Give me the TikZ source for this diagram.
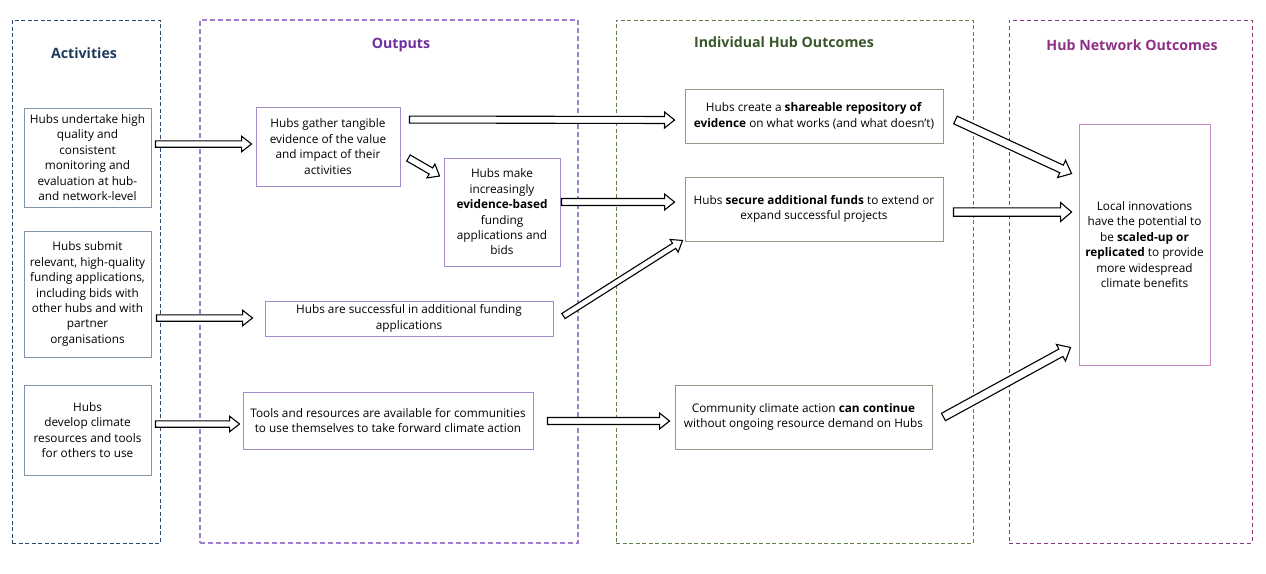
\documentclass[tikz,border=0pt]{standalone}
\usepackage{fontspec}
\setmainfont{Open Sans}
\usetikzlibrary{calc}
\definecolor{actline}{HTML}{2E4A6B}
\definecolor{acttitle}{HTML}{1F3B5C}
\definecolor{actbox}{HTML}{7F94AB}
\definecolor{outline}{HTML}{A07FD2}
\definecolor{outtitle}{HTML}{7030A0}
\definecolor{outbox}{HTML}{A58BC9}
\definecolor{indline}{HTML}{5F7F4F}
\definecolor{indtitle}{HTML}{38572A}
\definecolor{indbox}{HTML}{8C9C86}
\definecolor{netline}{HTML}{8B3A7E}
\definecolor{nettitle}{HTML}{8E3087}
\definecolor{netbox}{HTML}{C58AC3}
\newcommand\barrow[5]{%
  \coordinate (bh) at ($(#5)!#3!(#4)$);
  \draw[blockarr] ($(#4)!#1!90:(#5)$) -- ($(bh)!#1!90:(#5)$) -- ($(bh)!#2!90:(#5)$) -- (#5)
    -- ($(bh)!#2!-90:(#5)$) -- ($(bh)!#1!-90:(#5)$) -- ($(#4)!#1!-90:(#5)$) -- cycle;}
\tikzset{
  cont/.style={draw, line width=1pt, dash pattern=on 4pt off 2.5pt, minimum height=523pt, inner sep=0pt},
  ctitle/.style={font=\fontsize{14.2}{16}\selectfont\bfseries},
  box/.style={draw, line width=0.9pt, align=center, inner sep=0pt, font=\fontsize{11.8}{15.4}\selectfont},
  actb/.style={box, draw=actbox, minimum width=127pt},
  outb/.style={box, draw=outbox},
  indb/.style={box, draw=indbox},
  netb/.style={box, draw=netbox},
  blockarr/.style={draw=black, fill=white, line width=1.1pt, line join=miter}
}
\begin{document}
\begin{tikzpicture}[x=1pt, y=-1pt]
\useasboundingbox (0,0) rectangle (1266,573);
% containers
\node[cont, draw=actline, minimum width=148pt] (cact) at (86,281.5) {};
\node[cont, draw=outline, line width=1.3pt, dash pattern=on 5pt off 3pt, minimum width=378pt] (cout) at (389,281.5) {};
\node[cont, draw=indline, minimum width=357pt] (cind) at (794.5,281.5) {};
\node[cont, draw=netline, dash pattern=on 4pt off 3pt, minimum width=243pt] (cnet) at (1130.5,281.5) {};
% titles
\node[ctitle, text=acttitle] (tact) at (84,53) {Activities};
\node[ctitle, text=outtitle] (tout) at (401,45) {Outputs};
\node[ctitle, text=indtitle] (tind) at (784,42) {Individual Hub Outcomes};
\node[ctitle, text=nettitle] (tnet) at (1132,45) {Hub Network Outcomes};
% activities
\node[actb, minimum height=99pt] (a1) at (87.5,157.5) {Hubs undertake high\\quality and\\consistent\\monitoring and\\evaluation at hub-\\and network-level};
\node[actb, minimum height=126pt] (a2) at (87.5,294) {Hubs submit\\relevant, high-quality\\funding applications,\\including bids with\\other hubs and with\\partner\\organisations};
\node[actb, minimum height=90pt] (a3) at (87.5,430) {Hubs\\develop climate\\resources and tools\\for others to use};
% outputs
\node[outb, minimum width=144pt, minimum height=79pt] (o1) at (328,146.5) {Hubs gather tangible\\evidence of the value\\and impact of their\\activities};
\node[outb, minimum width=116pt, minimum height=108pt] (o2) at (502,212) {Hubs make\\increasingly\\\textbf{evidence-based}\\funding\\applications and\\bids};
\node[outb, minimum width=288pt, minimum height=35pt] (o3) at (409,318.5) {Hubs are successful in additional funding\\applications};
\node[outb, minimum width=290pt, minimum height=57pt] (o4) at (388,420.5) {Tools and resources are available for communities\\to use themselves to take forward climate action};
% individual outcomes
\node[indb, minimum width=258pt, minimum height=54pt] (i1) at (814,116) {Hubs create a \textbf{shareable repository of}\\\textbf{evidence} on what works (and what doesn't)};
\node[indb, minimum width=258pt, minimum height=64pt] (i2) at (814,209) {Hubs \textbf{secure additional funds} to extend or\\expand successful projects};
\node[indb, minimum width=257pt, minimum height=64pt] (i3) at (803.5,417) {Community climate action \textbf{can continue}\\without ongoing resource demand on Hubs};
% network outcome
\node[netb, minimum width=131pt, minimum height=241pt] (n1) at (1144.5,244.5) {Local innovations\\have the potential to\\be \textbf{scaled-up or}\\\textbf{replicated} to provide\\more widespread\\climate benefits};
% arrow end points
\coordinate (a1s) at ($(a1.east)+(4,-13.5)$);
\coordinate (o1t) at ($(o1.west)+(-4,-2.5)$);
\coordinate (o1s) at ($(o1.north east)+(9,13)$);
\coordinate (i1t) at ($(i1.west)+(-10,4)$);
\coordinate (o1d) at ($(o1.east)+(8,11.5)$);
\coordinate (o2t) at ($(o2.west)+(-4,-36)$);
\coordinate (o2s) at ($(o2.east)+(1,-10)$);
\coordinate (i2t) at ($(i2.west)+(-10,-7)$);
\coordinate (a2s) at ($(a2.east)+(5,24)$);
\coordinate (o3t) at ($(o3.west)+(-12,-0.5)$);
\coordinate (o3s) at ($(o3.east)+(10,-2.5)$);
\coordinate (i2b) at ($(i2.south west)+(-2,-1)$);
\coordinate (a3s) at ($(a3.east)+(4,-6)$);
\coordinate (o4t) at ($(o4.west)+(-3,3.5)$);
\coordinate (o4s) at ($(o4.east)+(14,0.5)$);
\coordinate (i3t) at ($(i3.west)+(-5,4)$);
\coordinate (i1s) at ($(i1.east)+(12,4)$);
\coordinate (n1a) at ($(n1.north west)+(-7,50)$);
\coordinate (i2s) at ($(i2.east)+(10,3)$);
\coordinate (n1b) at ($(n1.west)+(-7,-32.5)$);
\coordinate (i3s) at ($(i3.east)+(11,0)$);
\coordinate (n1c) at ($(n1.south west)+(-8,-18)$);
% arrows
\barrow{3.2pt}{7.8pt}{10pt}{a1s}{o1t}
\barrow{3.5pt}{8pt}{10pt}{o1s}{i1t}
\barrow{3.5pt}{8pt}{10pt}{o1d}{o2t}
\barrow{3.5pt}{8pt}{10pt}{o2s}{i2t}
\barrow{3.2pt}{7.8pt}{10pt}{a2s}{o3t}
\barrow{3pt}{7.5pt}{10pt}{o3s}{i2b}
\barrow{3.2pt}{7.8pt}{10pt}{a3s}{o4t}
\barrow{3.5pt}{8pt}{10pt}{o4s}{i3t}
\barrow{4.2pt}{9.5pt}{11pt}{i1s}{n1a}
\barrow{4.2pt}{9.5pt}{11pt}{i2s}{n1b}
\barrow{4.2pt}{9.5pt}{11pt}{i3s}{n1c}
\end{tikzpicture}
\end{document}
